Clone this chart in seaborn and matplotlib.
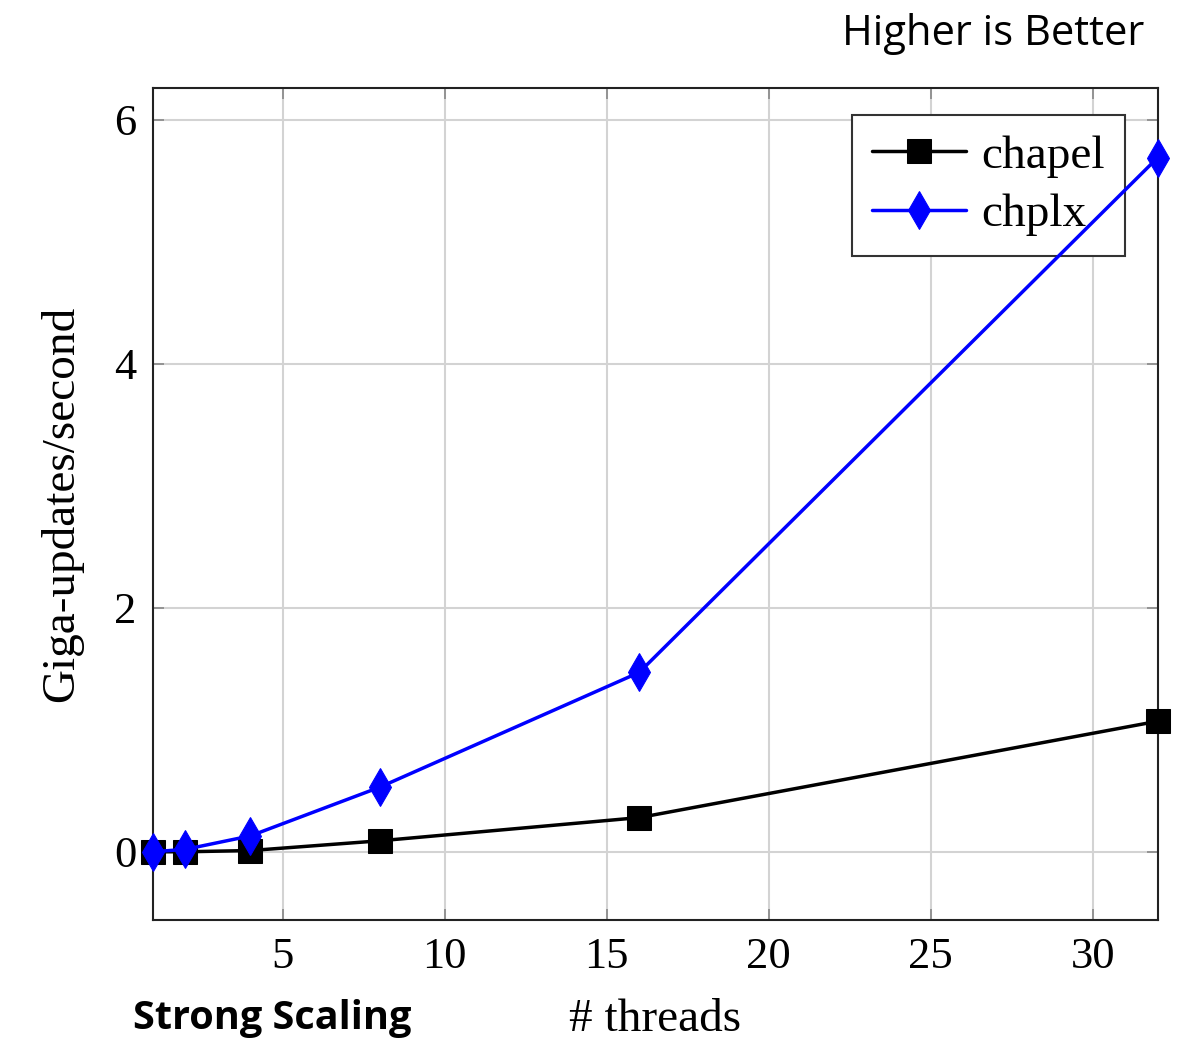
import matplotlib
matplotlib.use("Agg")
import matplotlib.pyplot as plt
import seaborn as sns
import pandas as pd

threads = [1, 2, 4, 8, 16, 32]
chapel = [0.0, 0.0, 0.01, 0.09, 0.28, 1.07]
chplx = [0.0, 0.02, 0.13, 0.53, 1.47, 5.69]
series_names = ["chapel", "chplx"]
x_ticks = [5, 10, 15, 20, 25, 30]
y_ticks = [0, 2, 4, 6]

sns.set_theme(style="whitegrid")
plt.rcParams['font.family'] = ['Liberation Serif', 'DejaVu Serif']
plt.rcParams['text.color'] = 'black'
plt.rcParams['axes.labelcolor'] = 'black'

fig = plt.figure(figsize=(11.96, 10.42), dpi=100)
ax = fig.add_axes([0.128, 0.117, 0.840, 0.7985])

df = pd.DataFrame({
    "threads": threads * 2,
    "value": chapel + chplx,
    "series": [series_names[0]] * len(threads) + [series_names[1]] * len(threads),
})

sns.lineplot(data=df[df.series == "chapel"], x="threads", y="value", ax=ax,
             color="black", marker="s", markersize=17, linewidth=2.5,
             markeredgecolor="black", label="chapel", clip_on=False, zorder=5)
sns.lineplot(data=df[df.series == "chplx"], x="threads", y="value", ax=ax,
             color="#0000ff", marker="d", markersize=19, linewidth=2.5,
             markeredgecolor="#0000ff", label="chplx", clip_on=False, zorder=6)

ax.set_xlim(1, 32)
ax.set_ylim(-0.56, 6.26)
ax.set_xticks(x_ticks)
ax.set_yticks(y_ticks)
ax.grid(True, color="#d3d3d3", linewidth=1.5)
ax.set_facecolor("white")
for s in ax.spines.values():
    s.set_color("#222222")
    s.set_linewidth(1.5)
ax.tick_params(axis="both", direction="in", length=8, width=1.2, color="#888888",
               labelsize=32, labelcolor="black", top=True, right=True, bottom=True,
               left=True, labeltop=False, labelright=False)
ax.tick_params(axis="x", pad=12)
ax.tick_params(axis="y", pad=12)
ax.set_xlabel("# threads", fontsize=34, labelpad=16)
ax.set_ylabel("Giga-updates/second", fontsize=34, labelpad=22)

leg = ax.legend(loc="upper right", fontsize=34, frameon=True, fancybox=False,
                edgecolor="#333333", framealpha=1, borderpad=0.42,
                handlelength=2.0, handletextpad=0.32, labelspacing=0.32,
                borderaxespad=0, bbox_to_anchor=(0.967, 0.9675))
leg.get_frame().set_linewidth(1.5)

fig.text(0.957, 0.967, "Higher is Better", ha="right", va="center",
         fontsize=30, family="Open Sans", color="black")
fig.text(0.111, 0.023, "Strong Scaling", ha="left", va="center",
         fontsize=28.5, fontweight="bold", family="Open Sans", color="black")

fig.savefig("out.png", dpi=100, facecolor="white")
